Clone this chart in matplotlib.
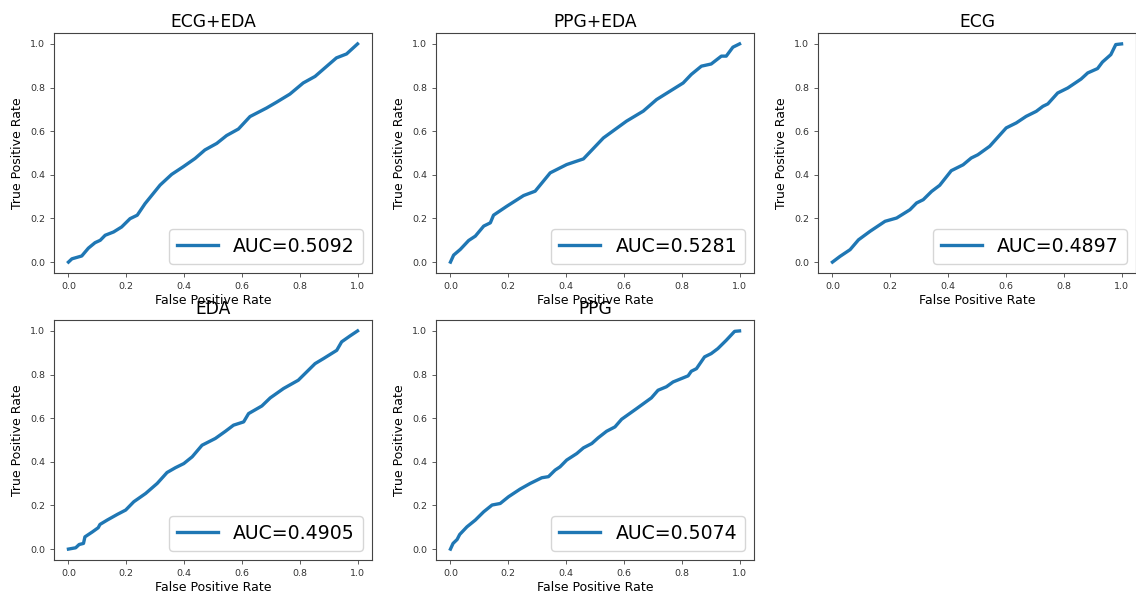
import matplotlib
matplotlib.use("Agg")
import matplotlib.pyplot as plt

titles = ["ECG+EDA", "PPG+EDA", "ECG", "EDA", "PPG"]
aucs = [0.5092, 0.5281, 0.4897, 0.4905, 0.5074]

fpr_ecg_eda = [0, 0.012, 0.046, 0.069, 0.092, 0.110, 0.127, 0.156, 0.184, 0.213, 0.238, 0.265, 0.317,
               0.357, 0.397, 0.438, 0.472, 0.513, 0.547, 0.588, 0.628, 0.685, 0.720, 0.766, 0.812,
               0.853, 0.893, 0.927, 0.962, 1.0]
tpr_ecg_eda = [0, 0.015, 0.028, 0.064, 0.089, 0.100, 0.123, 0.138, 0.161, 0.199, 0.215, 0.268, 0.353,
               0.402, 0.437, 0.475, 0.514, 0.544, 0.580, 0.610, 0.667, 0.706, 0.733, 0.770, 0.821,
               0.851, 0.897, 0.936, 0.954, 1.0]

fpr_ppg_eda = [0, 0.011, 0.034, 0.063, 0.086, 0.115, 0.138, 0.149, 0.195, 0.253, 0.293, 0.345, 0.402,
               0.460, 0.529, 0.609, 0.667, 0.713, 0.759, 0.805, 0.833, 0.868, 0.902, 0.937, 0.954,
               0.977, 1.0]
tpr_ppg_eda = [0, 0.032, 0.058, 0.099, 0.119, 0.165, 0.180, 0.215, 0.256, 0.305, 0.325, 0.409, 0.447,
               0.473, 0.569, 0.646, 0.692, 0.745, 0.783, 0.821, 0.860, 0.898, 0.908, 0.944, 0.944,
               0.985, 1.0]

fpr_ecg = [0, 0.026, 0.061, 0.090, 0.130, 0.182, 0.222, 0.268, 0.291, 0.314, 0.343, 0.371, 0.411,
           0.452, 0.480, 0.503, 0.544, 0.601, 0.636, 0.670, 0.705, 0.728, 0.745, 0.779, 0.814,
           0.860, 0.883, 0.917, 0.934, 0.963, 0.980, 1.0]
tpr_ecg = [0, 0.026, 0.057, 0.102, 0.141, 0.187, 0.202, 0.240, 0.271, 0.286, 0.324, 0.352, 0.419,
           0.446, 0.477, 0.492, 0.531, 0.615, 0.638, 0.668, 0.691, 0.714, 0.725, 0.775, 0.798,
           0.839, 0.867, 0.887, 0.917, 0.951, 0.997, 1.0]

fpr_eda = [0, 0.025, 0.037, 0.052, 0.057, 0.083, 0.103, 0.109, 0.134, 0.169, 0.198, 0.226, 0.267,
           0.307, 0.341, 0.370, 0.399, 0.428, 0.462, 0.508, 0.543, 0.571, 0.606, 0.623, 0.669,
           0.698, 0.744, 0.795, 0.824, 0.853, 0.882, 0.928, 0.945, 0.974, 1.0]
tpr_eda = [0, 0.006, 0.021, 0.026, 0.056, 0.079, 0.098, 0.113, 0.133, 0.159, 0.179, 0.217, 0.255,
           0.301, 0.351, 0.373, 0.392, 0.423, 0.476, 0.507, 0.540, 0.568, 0.583, 0.621, 0.656,
           0.693, 0.736, 0.774, 0.812, 0.850, 0.873, 0.911, 0.950, 0.977, 1.0]

fpr_ppg = [0, 0.009, 0.023, 0.032, 0.057, 0.086, 0.115, 0.144, 0.172, 0.201, 0.241, 0.276, 0.316,
           0.339, 0.362, 0.379, 0.402, 0.437, 0.460, 0.489, 0.511, 0.540, 0.569, 0.592, 0.644,
           0.695, 0.718, 0.747, 0.770, 0.822, 0.833, 0.851, 0.879, 0.902, 0.925, 0.954, 0.983, 1.0]
tpr_ppg = [0, 0.026, 0.044, 0.067, 0.102, 0.133, 0.171, 0.202, 0.209, 0.240, 0.275, 0.301, 0.327,
           0.332, 0.362, 0.377, 0.408, 0.438, 0.464, 0.484, 0.510, 0.540, 0.560, 0.595, 0.644,
           0.693, 0.728, 0.744, 0.766, 0.794, 0.815, 0.827, 0.881, 0.896, 0.919, 0.957, 0.998, 1.0]

curves = [(fpr_ecg_eda, tpr_ecg_eda), (fpr_ppg_eda, tpr_ppg_eda), (fpr_ecg, tpr_ecg),
          (fpr_eda, tpr_eda), (fpr_ppg, tpr_ppg)]

W, H = 1136, 595
fig = plt.figure(figsize=(W / 100, H / 100), dpi=100)

lefts = [54, 436, 818, 54, 436]
tops = [33, 33, 33, 320, 320]
aw, ah = 318, 240

for i, (t, auc, (fx, ty)) in enumerate(zip(titles, aucs, curves)):
    ax = fig.add_axes([lefts[i] / W, 1 - (tops[i] + ah) / H, aw / W, ah / H])
    ax.plot(fx, ty, color="#1f77b4", linewidth=2.4, label=f"AUC={auc:.4f}")
    ax.set_title(t, fontsize=12.3, pad=4.5)
    ax.set_xlabel("False Positive Rate", fontsize=9, labelpad=2)
    ax.set_ylabel("True Positive Rate", fontsize=9, labelpad=4)
    ax.tick_params(labelsize=6.8, length=3, width=0.6, colors="#444444", labelcolor="#333333")
    ax.set_xticks([0, 0.2, 0.4, 0.6, 0.8, 1.0])
    ax.set_yticks([0, 0.2, 0.4, 0.6, 0.8, 1.0])
    for s in ax.spines.values():
        s.set_color("#444444")
        s.set_linewidth(0.8)
    ax.legend(loc="lower right", fontsize=13.6, handlelength=2.2, borderaxespad=0.5)

fig.savefig("out.png", dpi=100)
